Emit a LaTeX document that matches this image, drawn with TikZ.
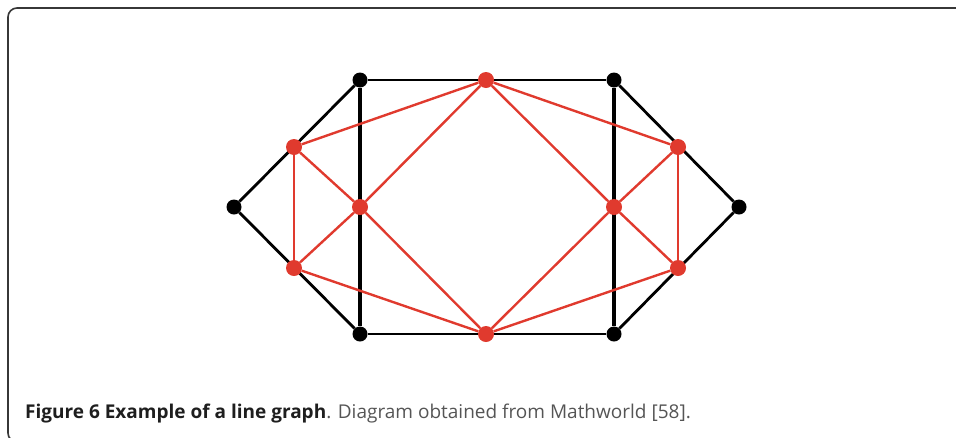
\documentclass[tikz,border=0pt]{standalone}
\usepackage{fontspec}
\newfontfamily\capfont{Open Sans}
\usetikzlibrary{positioning, backgrounds}
\definecolor{linered}{RGB}{224,58,46}
\definecolor{framegray}{RGB}{55,55,55}
\definecolor{capgray}{RGB}{85,85,85}
\definecolor{capblack}{RGB}{30,30,30}

\begin{document}
\begin{tikzpicture}[x=1pt,y=-1pt,
    blackdot/.style={circle, fill=black, inner sep=0pt, minimum size=15pt},
    reddot/.style={circle, fill=linered, inner sep=0pt, minimum size=16pt},
    blackedge/.style={draw=black, line width=2.8pt},
    rededge/.style={draw=linered, line width=2.4pt}]
    \useasboundingbox (0,0) rectangle (956,437);
    \clip (0,0) rectangle (956,437);

    % Frame
    \draw[framegray, line width=1.6pt, rounded corners=9pt] (8,8) rectangle (975,442);

    % Original graph vertices
    \node[blackdot] (a) at (234,207) {};
    \node[blackdot] (b) at (360,80) {};
    \node[blackdot] (c) at (614,80) {};
    \node[blackdot] (d) at (739,207) {};
    \node[blackdot] (e) at (614,334) {};
    \node[blackdot] (f) at (360,334) {};

    % Line graph vertices (one per edge)
    \node[reddot] (ab) at (294,147) {};
    \node[reddot] (bc) at (486,80) {};
    \node[reddot] (bf) at (360,207) {};
    \node[reddot] (af) at (294,268) {};
    \node[reddot] (fe) at (486,334) {};
    \node[reddot] (cd) at (678,147) {};
    \node[reddot] (ce) at (614,207) {};
    \node[reddot] (de) at (678,268) {};

    \begin{pgfonlayer}{background}
    % Original graph edges
    \draw[blackedge] (a) -- (b);
    \draw[blackedge] (b) -- (c);
    \draw[blackedge] (c) -- (d);
    \draw[blackedge] (d) -- (e);
    \draw[blackedge] (e) -- (f);
    \draw[blackedge] (f) -- (a);
    \draw[blackedge, line width=3.4pt] (b) -- (f);
    \draw[blackedge, line width=3.4pt] (c) -- (e);

    % Line graph edges
    \draw[rededge] (ab) -- (af);
    \draw[rededge] (ab) -- (bc);
    \draw[rededge] (ab) -- (bf);
    \draw[rededge] (bc) -- (bf);
    \draw[rededge] (af) -- (bf);
    \draw[rededge] (af) -- (fe);
    \draw[rededge] (bf) -- (fe);
    \draw[rededge] (bc) -- (cd);
    \draw[rededge] (bc) -- (ce);
    \draw[rededge] (cd) -- (ce);
    \draw[rededge] (ce) -- (fe);
    \draw[rededge] (de) -- (fe);
    \draw[rededge] (ce) -- (de);
    \draw[rededge] (cd) -- (de);
    \end{pgfonlayer}

    % Caption
    \node[anchor=base west, inner sep=0pt, font=\capfont\fontsize{19}{22}\selectfont] (caption) at (25,418)
        {\textcolor{capblack}{\textbf{Figure 6 Example of a line graph}}\textcolor{capgray}{. Diagram obtained from Mathworld [58].}};
\end{tikzpicture}
\end{document}
